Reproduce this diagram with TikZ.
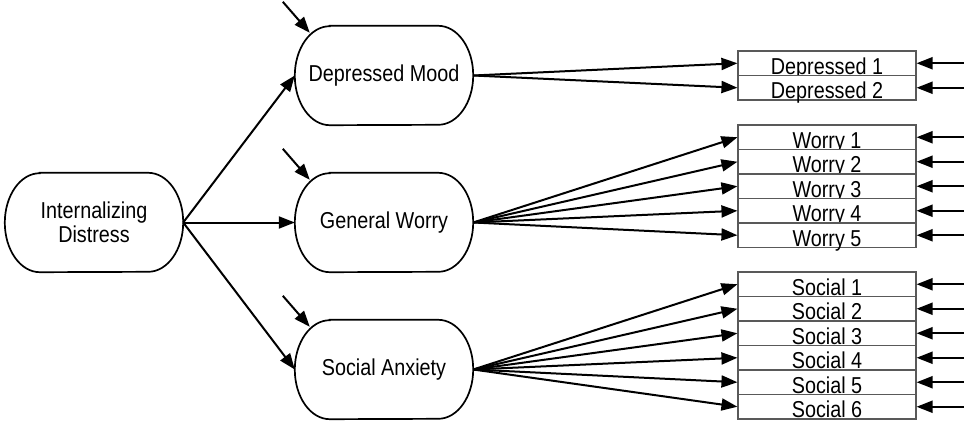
\documentclass[tikz,border=0pt]{standalone}
\usepackage{fontspec}
\setmainfont[FakeStretch=0.86]{Liberation Sans}
\usetikzlibrary{arrows.meta,calc}

\begin{document}
\begin{tikzpicture}[x=1bp,y=1bp,
  every node/.style={font=\fontsize{23bp}{24bp}\selectfont},
  latent/.style={minimum width=178bp,minimum height=99bp,inner sep=0pt,align=center},
  outline/.style={line width=1.7bp,draw=black},
  indicator/.style={draw=black!65,line width=1.1bp,fill=white,minimum width=178bp,
    inner xsep=0pt,inner ysep=0pt,text height=23bp,text depth=1.5bp},
  loading/.style={line width=2bp,-{Triangle[length=16bp,width=12bp]}},
  errarrow/.style={line width=2bp,-{Triangle[length=16bp,width=12bp]}}]

\useasboundingbox (0,0) rectangle (964,424);

% latent variables
\node[latent] (ind) at (94,201.5) {Internalizing\\Distress};
\node[latent] (dm) at (384,348.5) {Depressed Mood};
\node[latent] (gw) at (384,201.5) {General Worry};
\node[latent] (sa) at (384,54.5) {Social Anxiety};

% stadium outlines with elliptical ends
\foreach \n in {ind,dm,gw,sa}
  \draw[outline] ($(\n.north west)+(35,0)$) -- ($(\n.north east)+(-35,0)$)
    arc[start angle=90,end angle=-90,x radius=35bp,y radius=49.5bp]
    -- ($(\n.south west)+(35,0)$)
    arc[start angle=270,end angle=90,x radius=35bp,y radius=49.5bp] -- cycle;

% observed indicators
\node[indicator] (d1) at (827,360.75) {Depressed 1};
\node[indicator] (d2) at (827,336.25) {Depressed 2};

\node[indicator] (w1) at (827,286.75) {Worry 1};
\node[indicator] (w2) at (827,262.25) {Worry 2};
\node[indicator] (w3) at (827,237.75) {Worry 3};
\node[indicator] (w4) at (827,213.25) {Worry 4};
\node[indicator] (w5) at (827,188.75) {Worry 5};

\node[indicator] (s1) at (827,139.75) {Social 1};
\node[indicator] (s2) at (827,115.25) {Social 2};
\node[indicator] (s3) at (827,90.75) {Social 3};
\node[indicator] (s4) at (827,66.25) {Social 4};
\node[indicator] (s5) at (827,41.75) {Social 5};
\node[indicator] (s6) at (827,17.25) {Social 6};

% second-order loadings
\draw[loading] (ind.east) -- (dm.west);
\draw[loading] (ind.east) -- (gw.west);
\draw[loading] (ind.east) -- (sa.west);

% first-order loadings
\foreach \i in {d1,d2} \draw[loading] (dm.east) -- (\i.west);
\foreach \i in {w1,w2,w3,w4,w5} \draw[loading] (gw.east) -- (\i.west);
\foreach \i in {s1,s2,s3,s4,s5,s6} \draw[loading] (sa.east) -- (\i.west);

% disturbances of the latent factors
\foreach \n in {dm,gw,sa} {
  \coordinate (dist-\n) at ($(\n.north west)+(-12,24)$);
  \draw[errarrow] (dist-\n) -- ($(\n.north west)+(15,-7)$);
}

% residuals of the indicators
\foreach \i in {d1,d2,w1,w2,w3,w4,w5,s1,s2,s3,s4,s5,s6} {
  \coordinate (res-\i) at (964,0 |- \i.east);
  \draw[errarrow] (res-\i) -- (\i.east);
}
\end{tikzpicture}
\end{document}
